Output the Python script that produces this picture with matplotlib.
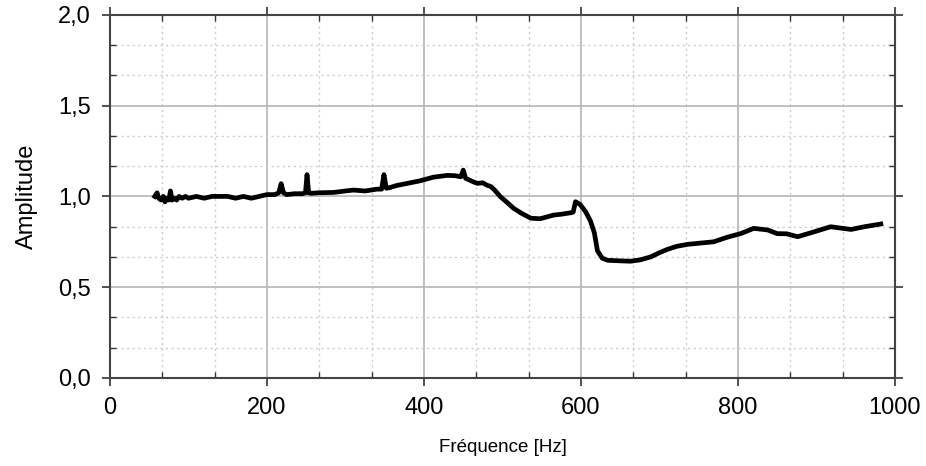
import matplotlib.pyplot as plt
from matplotlib.ticker import MultipleLocator, FuncFormatter

plt.rcParams['font.family'] = ['Liberation Sans', 'DejaVu Sans']

# Fréquence [Hz] et amplitude
freq = [57, 60, 62, 65, 68, 70, 73, 75, 77, 79, 82, 85, 88, 92, 96, 100,
        110, 120, 130, 140, 150, 160, 170, 180, 190, 200, 210, 215, 218, 221,
        225, 235, 245, 249, 251, 253, 256, 265, 285, 300, 310, 325, 340, 346,
        349, 352, 356, 365, 379, 395, 412, 430, 440, 447, 450, 453, 458, 463, 468,
        475, 480, 485, 490, 497, 505, 514, 525, 536, 548, 565, 575, 587, 590, 593,
        599, 606, 612, 617, 621, 627, 634, 650, 663, 675, 689, 700, 710, 722, 736,
        750, 769, 787, 804, 820, 838, 850, 862, 876, 897, 918, 930, 944, 961, 982]
ampl = [1.00, 1.02, 0.99, 0.98, 1.00, 0.97, 0.99, 0.98, 1.03, 0.98, 0.99, 0.98, 1.00, 0.99, 1.00, 0.99,
        1.00, 0.99, 1.00, 1.00, 1.00, 0.99, 1.00, 0.99, 1.00, 1.01, 1.01, 1.02, 1.07, 1.02,
        1.01, 1.015, 1.015, 1.02, 1.12, 1.02, 1.017, 1.02, 1.022, 1.03, 1.035, 1.03, 1.04, 1.04,
        1.12, 1.045, 1.048, 1.06, 1.072, 1.086, 1.106, 1.116, 1.114, 1.108, 1.145, 1.10, 1.09, 1.08, 1.072,
        1.075, 1.062, 1.055, 1.035, 1.0, 0.97, 0.935, 0.905, 0.88, 0.877, 0.897, 0.902, 0.91, 0.913, 0.971,
        0.955, 0.915, 0.865, 0.80, 0.70, 0.66, 0.648, 0.645, 0.643, 0.650, 0.667, 0.690, 0.708, 0.725, 0.736,
        0.742, 0.75, 0.776, 0.796, 0.824, 0.815, 0.795, 0.794, 0.778, 0.805, 0.833, 0.826, 0.818, 0.833, 0.848]

fig = plt.figure(figsize=(9.26, 4.66), dpi=100)
ax = fig.add_axes([0.1188, 0.189, 0.8477, 0.779])

ax.plot(freq, ampl, color='black', lw=3.4, solid_joinstyle='round', zorder=3)

ax.set_xlim(0, 1000)
ax.set_ylim(0, 2.0)
ax.xaxis.set_major_locator(MultipleLocator(200))
ax.xaxis.set_minor_locator(MultipleLocator(200 / 3))
ax.yaxis.set_major_locator(MultipleLocator(0.5))
ax.yaxis.set_minor_locator(MultipleLocator(0.5 / 3))
ax.yaxis.set_major_formatter(FuncFormatter(lambda v, p: f'{v:.1f}'.replace('.', ',')))

ax.grid(which='major', color='#b5b5b5', lw=1.2, zorder=0)
ax.grid(which='minor', color='#cccccc', lw=1.0, ls=(0, (1.5, 2.5)), zorder=0)

ax.tick_params(which='both', top=True, right=True, labelsize=17, color='#333333')
ax.tick_params(which='major', direction='out', length=6, width=1.2, pad=8)
ax.tick_params(which='minor', direction='in', length=4, width=1.0)
for s in ax.spines.values():
    s.set_color('#444444')
    s.set_linewidth(1.5)

ax.set_xlabel('Fréquence [Hz]', fontsize=13.5, labelpad=14)
ax.set_ylabel('Amplitude', fontsize=17, labelpad=14)

fig.savefig('out.png', dpi=100)
